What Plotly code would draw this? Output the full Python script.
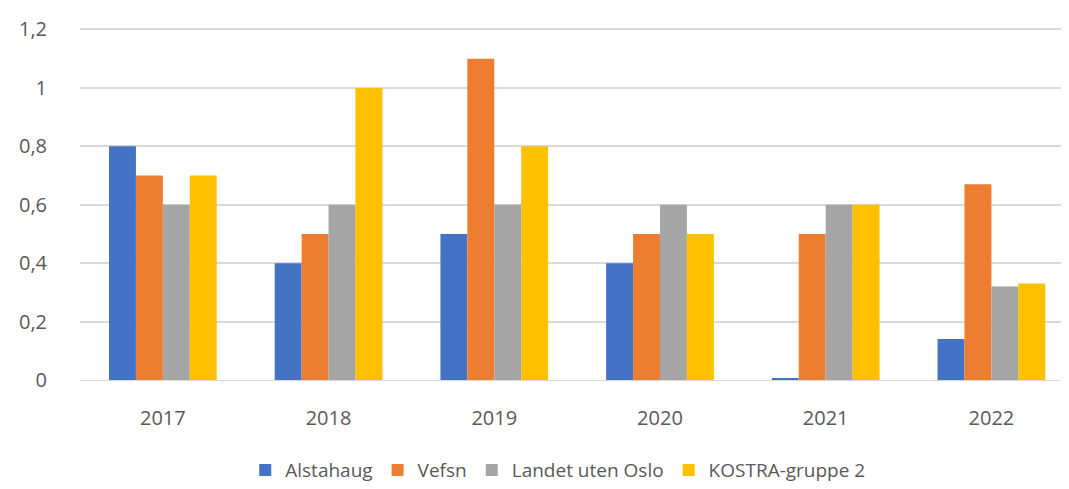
import plotly.graph_objects as go

years = ["2017", "2018", "2019", "2020", "2021", "2022"]
alstahaug = [0.8, 0.4, 0.5, 0.4, 0.005, 0.14]
vefsn = [0.7, 0.5, 1.1, 0.5, 0.5, 0.67]
landet = [0.6, 0.6, 0.6, 0.6, 0.6, 0.32]
kostra = [0.7, 1.0, 0.8, 0.5, 0.6, 0.33]

series = [
    ("Alstahaug", alstahaug, "#4472C4"),
    ("Vefsn", vefsn, "#ED7D31"),
    ("Landet uten Oslo", landet, "#A5A5A5"),
    ("KOSTRA-gruppe 2", kostra, "#FFC000"),
]

fig = go.Figure()
for name, vals, color in series:
    fig.add_trace(go.Bar(x=years, y=vals, name=name, marker_color=color,
                         marker_line_width=0))

# page body has an 8px margin, so the figure sits 8px in from the window corner
fig.update_layout(
    width=1053, height=481,
    paper_bgcolor="white", plot_bgcolor="white",
    margin=dict(l=72, r=0, t=20, b=109, autoexpand=False),
    barmode="group", bargap=0.35, bargroupgap=0,
    separators=", ",
    font=dict(family="Open Sans", size=20, color="#595959"),
    legend=dict(orientation="h", x=0.487, xanchor="center", y=-0.256, yanchor="middle",
                font=dict(size=19), itemwidth=30, tracegroupgap=0),
    showlegend=True,
)
fig.update_xaxes(type="category", range=[-0.5, 5.42], showgrid=False,
                 showline=True, linecolor="#d9d9d9", ticks="",
                 ticklabelstandoff=20)
fig.update_yaxes(range=[0, 1.205], tickvals=[0, 0.2, 0.4, 0.6, 0.8, 1, 1.2],
                 showgrid=True, gridcolor="#d9d9d9",
                 gridwidth=1.5, zeroline=False, ticks="", ticklabelstandoff=32)

fig.write_html("out.html")
